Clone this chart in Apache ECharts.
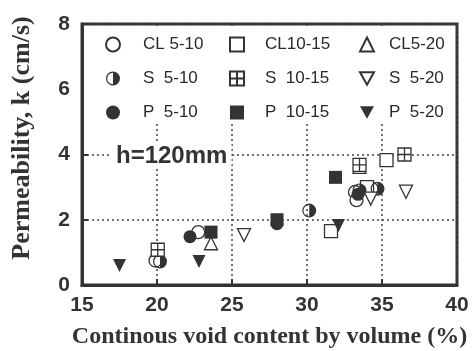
<!DOCTYPE html>
<html><head><meta charset="utf-8">
<script src="https://cdn.jsdelivr.net/npm/echarts@6/dist/echarts.min.js"></script>
<style>html,body{margin:0;padding:0;background:#fff}#c{width:473px;height:351px}</style>
</head><body><div id="c"></div>
<script>
// Data (x: continuous void content %, y: permeability cm/s)
const CL_5_10_x = [19.9, 22.75, 33.2, 33.3, 34.3];
const CL_5_10_y = [0.75, 1.62, 2.85, 2.6, 2.95];
const CL_10_15_x = [31.6, 34.0, 35.3];
const CL_10_15_y = [1.65, 3.0, 3.83];
const CL_5_20_x = [23.6, 33.5];
const CL_5_20_y = [1.28, 3.62];
const S_5_10_x = [20.2, 30.15, 33.5, 34.7];
const S_5_10_y = [0.72, 2.28, 2.9, 2.95];
const S_10_15_x = [20.05, 33.5, 36.5];
const S_10_15_y = [1.08, 3.68, 4.0];
const S_5_20_x = [25.8, 34.25, 36.6];
const S_5_20_y = [1.53, 2.65, 2.86];
const P_5_10_x = [22.2, 28.0, 33.4];
const P_5_10_y = [1.48, 1.88, 2.78];
const P_10_15_x = [23.6, 28.0, 31.9];
const P_10_15_y = [1.62, 2.0, 3.3];
const P_5_20_x = [17.5, 22.8, 32.1];
const P_5_20_y = [0.6, 0.72, 1.82];
const xTicks = [15, 20, 25, 30, 35, 40];
const yTicks = [0, 2, 4, 6, 8];
const xTitle = 'Continous void content by volume (%)';
const yTitle = 'Permeability, k (cm/s)';

const INK = '#333';
const HALF = 'path://M10 0A10 10 0 0 1 10 20A10 10 0 0 1 10 0ZM10 1.7A8.3 8.3 0 0 0 10 18.3L10 1.7Z';
const PLUSSQ = 'path://M0 0L20 0L20 20L0 20ZM10 0L10 20M0 10L20 10';
const INVTRI = 'path://M0 0L20 0L10 18Z';

function pts(xs, ys){ return xs.map((x,i)=>[x, ys[i]]); }
function ser(name, xs, ys, symbol, filled, size){
  return {
    name, type:'scatter', data: pts(xs, ys), symbol, symbolSize: size || 13,
    itemStyle: filled ? {color: INK, borderWidth: 0, opacity: 1}
                      : {color: '#fff', borderColor: INK, borderWidth: 1.3, opacity: 1},
    emphasis:{disabled:true}, z: 3
  };
}
const series = [
  ser('CL 5-10', CL_5_10_x, CL_5_10_y, 'circle', false),
  ser('CL10-15', CL_10_15_x, CL_10_15_y, 'rect', false),
  ser('CL5-20', CL_5_20_x, CL_5_20_y, 'triangle', false),
  ser('S  5-10', S_5_10_x, S_5_10_y, HALF, true, 14),
  ser('S  10-15', S_10_15_x, S_10_15_y, PLUSSQ, false),
  ser('S  5-20', S_5_20_x, S_5_20_y, INVTRI, false),
  ser('P  5-10', P_5_10_x, P_5_10_y, 'circle', true),
  ser('P  10-15', P_10_15_x, P_10_15_y, 'rect', true),
  ser('P  5-20', P_5_20_x, P_5_20_y, INVTRI, true)
];
function leg(names, left, pad){
  return {orient:'vertical', left, top:36, padding:0, itemGap:17, itemWidth:14, itemHeight:14,
    data:names, selectedMode:false,
    formatter: n => '{t|' + n + '}',
    textStyle:{rich:{t:{fontFamily:'Liberation Sans, Arial', fontSize:17, color:'#2a2a2a', lineHeight:14, padding:[0,0,0,pad]}}}
  };
}
const chart = echarts.init(document.getElementById('c'), null, {renderer:'canvas'});
chart.setOption({
  animation:false,
  backgroundColor:'#fff',
  grid:{left:82, right:16, top:24, bottom:66, show:true, borderColor:INK, borderWidth:3,
    backgroundColor:'transparent', containLabel:false, outerBoundsMode:'none'},
  legend:[
    leg(['CL 5-10','S  5-10','P  5-10'], 105, 18),
    leg(['CL10-15','S  10-15','P  10-15'], 229, 16),
    leg(['CL5-20','S  5-20','P  5-20'], 359, 10)
  ],
  xAxis:{type:'value', min:xTicks[0], max:xTicks[xTicks.length-1], interval:5,
    name:xTitle, nameLocation:'middle', nameGap:40,
    nameTextStyle:{fontFamily:'Liberation Serif, Times New Roman', fontWeight:'bold', fontSize:24, color:INK},
    axisLine:{show:true, lineStyle:{color:INK, width:3}},
    axisTick:{show:true, inside:true, length:6, lineStyle:{color:INK, width:2}},
    axisLabel:{fontFamily:'Liberation Sans, Arial', fontWeight:'bold', fontSize:21, color:INK, margin:10},
    splitLine:{show:true, lineStyle:{color:'#444', type:[2,3], width:1.5}}
  },
  yAxis:{type:'value', min:yTicks[0], max:yTicks[yTicks.length-1], interval:2,
    axisLine:{show:true, lineStyle:{color:INK, width:3}},
    axisTick:{show:true, inside:true, length:6, lineStyle:{color:INK, width:2}},
    axisLabel:{fontFamily:'Liberation Sans, Arial', fontWeight:'bold', fontSize:21, color:INK, margin:12},
    splitLine:{show:true, lineStyle:{color:'#444', type:[2,3], width:1.5}}
  },
  graphic:[
    {type:'rect', z:1, left:84, top:26, shape:{width:371, height:96}, style:{fill:'#fff'}},
    {type:'text', z:2, left:112, top:144, style:{text:'h=120mm', font:'bold 24px "Liberation Sans", Arial', fill:INK, backgroundColor:'#fff', padding:[0,4]}},
    {type:'text', z:2, x:22, y:138, rotation:Math.PI/2, style:{text:yTitle, font:'bold 26px "Liberation Serif", "Times New Roman"', fill:INK, align:'center', verticalAlign:'middle'}}
  ],
  series
});
</script></body></html>
